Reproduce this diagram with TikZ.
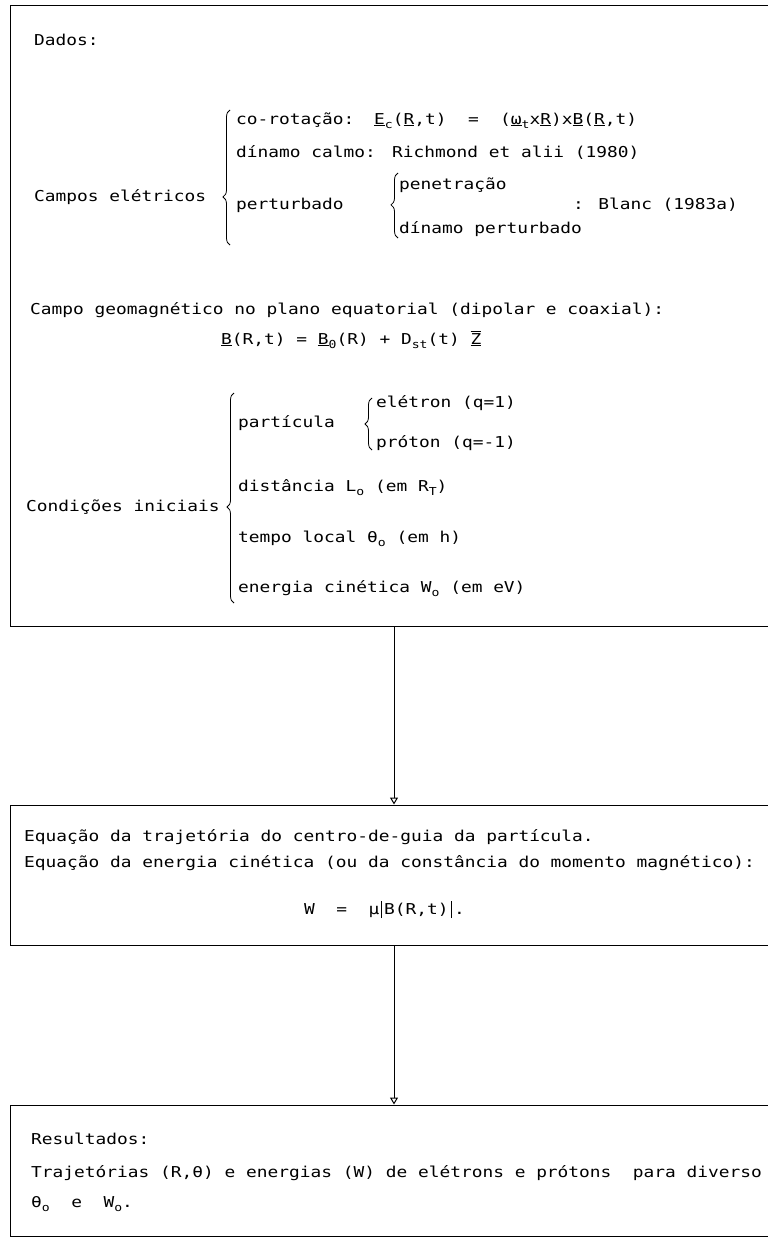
\documentclass[tikz,border=0pt]{standalone}
\usepackage{fontspec}
\setmainfont[FakeStretch=1.19]{DejaVu Sans Mono}
\usetikzlibrary{arrows.meta,decorations.pathreplacing}

\newcommand{\vb}[1]{\underline{#1}}
\newcommand{\lo}[1]{\raisebox{-0.3em}{\fontsize{11}{11}\selectfont #1}}
\newcommand{\vbar}{\rule[-4pt]{0.8pt}{17pt}}

\begin{document}
\begin{tikzpicture}[x=1pt,y=-1pt]

\tikzset{panel/.style = {draw,line width=1pt,minimum width=768pt,inner sep=0pt}}
\tikzset{txt/.style = {anchor=west,inner sep=0pt,text height=11pt,text depth=3pt,font=\fontsize{15}{18}\selectfont}}
\tikzset{edge/.style = {line width=1pt,-{Triangle[open,width=8pt,length=7pt]}}}
\tikzset{brc/.style = {line width=0.8pt,decorate,decoration={brace,amplitude=7pt,aspect=#1}}}

\fill[white] (0,0) rectangle (768,1239);
\useasboundingbox (0,0) rectangle (768,1239);
\clip (0,0) rectangle (768,1239);

% boxes
\node[panel,minimum height=620pt] (data) at (394,316) {};
\node[panel,minimum height=140pt] (eqs) at (394,875) {};
\node[panel,minimum height=131pt] (res) at (394,1170.5) {};

\draw[edge] (data.south) -- (eqs.north);
\draw[edge] (eqs.south) -- (res.north);

% Dados
\node[txt] (dados) at (34,42) {Dados:};
\node[txt] (campos) at (34,197) {Campos elétricos};
\draw[brc=0.356] (230,245) -- (230,110);
\node[txt] (corot) at (236,120) {co-rotação:};
\node[txt] (ec) at (374,120) {\vb{E}\lo{c}(\vb{R},t)};
\node[txt] (eqsign) at (468,120) {=};
\node[txt] (cross) at (500,120) {(\vb{ω}\lo{t}x\vb{R})x\vb{B}(\vb{R},t)};
\node[txt] (calmo) at (236,153) {dínamo calmo:};
\node[txt] (richm) at (392,153) {Richmond et alii (1980)};
\node[txt] (pert) at (236,205) {perturbado};
\draw[brc=0.51] (398,238) -- (398,173);
\node[txt] (penet) at (399,185) {penetração};
\node[txt] (dinpert) at (399,229) {dínamo perturbado};
\node[txt] (blanc) at (573,205) {: Blanc (1983a)};

\node[txt] (geo) at (30,310) {Campo geomagnético no plano equatorial (dipolar e coaxial):};
\node[txt] (beq) at (221,340) {\vb{B}(R,t) = \vb{B}\lo{0}(R) + D\lo{st}(t) $\underline{\overline{\hbox{Z}}}$};

\node[txt] (cond) at (26,507) {Condições iniciais};
\draw[brc=0.457] (234,603) -- (234,393);
\node[txt] (part) at (238,423) {partícula};
\draw[brc=0.5] (372,450) -- (372,398);
\node[txt] (eletr) at (376,403) {elétron (q=1)};
\node[txt] (proto) at (376,443) {próton (q=-1)};
\node[txt] (dist) at (238,487) {distância L\lo{o} (em R\lo{T})};
\node[txt] (tempo) at (238,538) {tempo local θ\lo{o} (em h)};
\node[txt] (energ) at (238,588) {energia cinética W\lo{o} (em eV)};

% Equacoes
\node[txt] (eqa) at (24,837) {Equação da trajetória do centro-de-guia da partícula.};
\node[txt] (eqb) at (24,863) {Equação da energia cinética (ou da constância do momento magnético):};
\node[txt] (weq) at (304,910) {W\ \ =\ \ μ\kern2pt\vbar\kern2pt B(R,t)\kern2pt\vbar\,.};

% Resultados
\node[txt] (resul) at (31,1140) {Resultados:};
\node[txt] (traj) at (31,1173) {Trajetórias (R,θ) e energias (W) de elétrons e prótons\ \ para diverso};
\node[txt] (thw) at (31,1203) {θ\lo{o}\ \ e\ \ W\lo{o}.};

\end{tikzpicture}
\end{document}
